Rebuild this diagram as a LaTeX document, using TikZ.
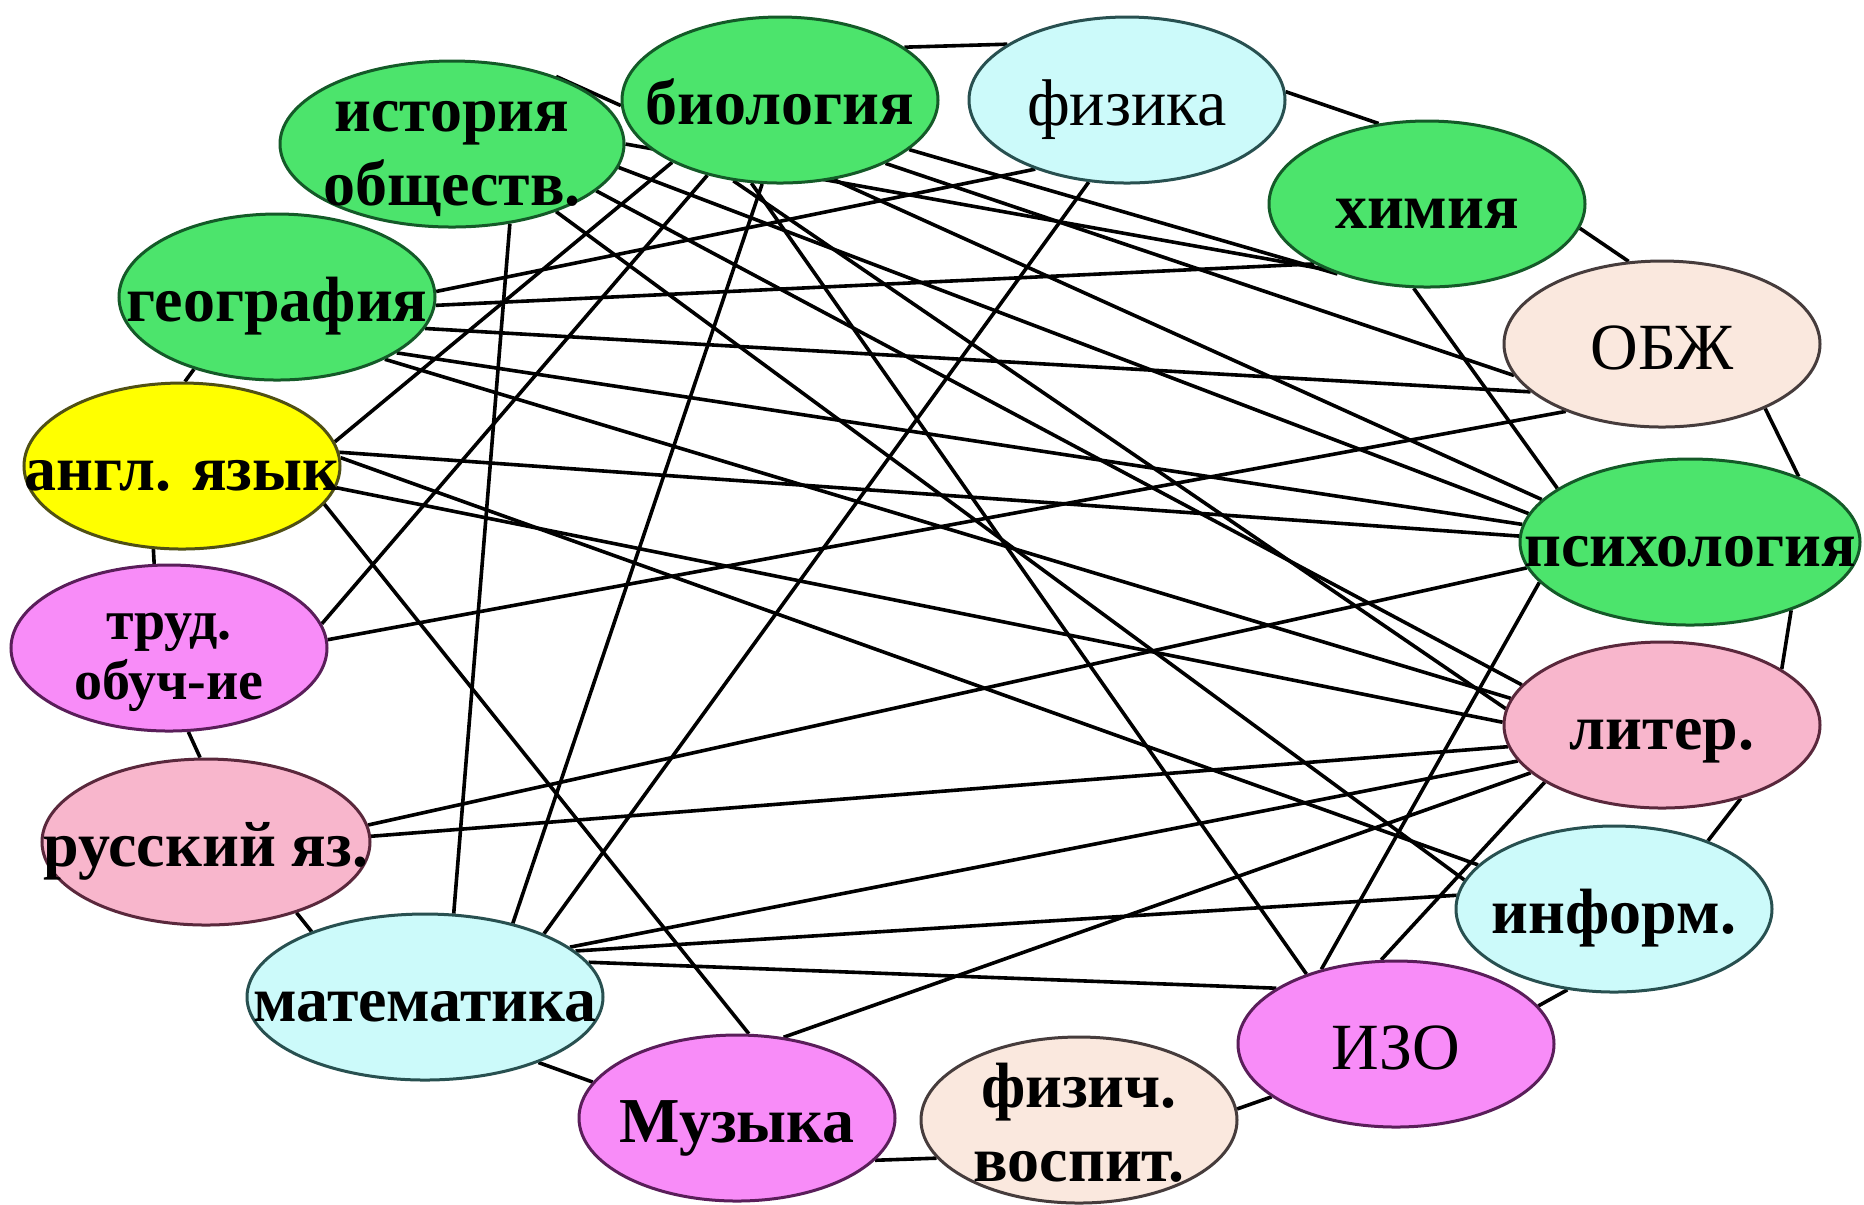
\documentclass[tikz,border=0pt]{standalone}
\usepackage{fontspec}
\setmainfont{Liberation Serif}
\usetikzlibrary{shapes.geometric,backgrounds}

\definecolor{cGreen}{RGB}{76,228,108}
\definecolor{dGreen}{RGB}{20,90,40}
\definecolor{cCyan}{RGB}{204,250,250}
\definecolor{dCyan}{RGB}{40,80,80}
\definecolor{cPeach}{RGB}{250,232,222}
\definecolor{dPeach}{RGB}{70,60,60}
\definecolor{cPink}{RGB}{248,182,204}
\definecolor{dPink}{RGB}{90,40,60}
\definecolor{cMag}{RGB}{248,140,248}
\definecolor{dMag}{RGB}{90,30,90}
\definecolor{cYel}{RGB}{255,255,0}
\definecolor{dYel}{RGB}{80,80,20}

% text of a subject, kept out of the ellipse size
\newcommand{\lab}[1]{\makebox[0pt]{\smash{\raisebox{-0.42em}{\begin{tabular}{@{}c@{}}#1\end{tabular}}}}}

\begin{document}
\begin{tikzpicture}[x=0.25pt, y=-0.25pt,
  main/.style = {draw, ellipse, line width=0.75pt, minimum width=79pt, minimum height=41.5pt, inner sep=0pt, font=\fontsize{16}{18.5}\selectfont\bfseries},
  grn/.style = {main, fill=cGreen, draw=dGreen},
  cyn/.style = {main, fill=cCyan, draw=dCyan},
  pch/.style = {main, fill=cPeach, draw=dPeach},
  pnk/.style = {main, fill=cPink, draw=dPink},
  mag/.style = {main, fill=cMag, draw=dMag},
  ylw/.style = {main, fill=cYel, draw=dYel},
  reg/.style = {font=\fontsize{16.5}{19}\selectfont}]
  \useasboundingbox (0,0) rectangle (1864,1204);

  \node[grn, minimum width=86pt] (ist) at (452,144) {\lab{история\\обществ.}};
  \node[grn] (bio) at (780,100) {\lab{биология}};
  \node[cyn, reg] (fiz) at (1127,100) {\lab{физика}};
  \node[grn] (him) at (1427,204) {\lab{химия}};
  \node[pch, reg] (obzh) at (1662,344) {\lab{ОБЖ}};
  \node[grn, minimum width=85pt] (psih) at (1690,542) {\lab{психология}};
  \node[pnk] (lit) at (1662,725) {\lab{литер.}};
  \node[cyn] (inf) at (1614,909) {\lab{информ.}};
  \node[mag, reg] (izo) at (1396,1044) {\lab{ИЗО}};
  \node[pch] (fizv) at (1079,1120) {\lab{физич.\\воспит.}};
  \node[mag] (muz) at (737,1118) {\lab{Музыка}};
  \node[cyn, minimum width=89pt] (mat) at (425,997) {\lab{математика}};
  \node[pnk, minimum width=82pt] (rus) at (206,842) {\lab{русский яз.}};
  \node[mag, font=\fontsize{14}{15}\selectfont\bfseries] (trud) at (169,648) {\lab{труд.\\обуч-ие}};
  \node[ylw] (angl) at (182,466) {\lab{англ. язык}};
  \node[grn] (geo) at (277,297) {\lab{география}};

  \begin{scope}[on background layer]
  \begin{scope}[line width=0.9pt]
    \fill[white] (0,0) rectangle (1864,1204);
    % round the ring
    \draw (ist.33) -- (bio.182);
    \draw (bio.23) -- (fiz.155);
    \draw (fiz.3) -- (him.121);
    \draw (him.-9) -- (obzh.112);
    \draw (obzh.-32) -- (psih.31);
    \draw (psih.-34) -- (lit.25);
    \draw (lit.-43) -- (inf.36);
    \draw (inf.-120) -- (izo.15);
    \draw (izo.203) -- (fizv.4);
    \draw (fizv.195) -- (muz.-17);
    \draw (muz.166) -- (mat.-30);
    \draw (mat.150) -- (rus.-38);
    \draw (rus.94) -- (trud.-77);
    \draw (trud.100) -- (angl.-109);
    \draw (angl.88) -- (geo.-139);
    % across
    \draw (ist.-54) -- (mat.71);
    \draw (ist.0) -- (him.213);
    \draw (ist.-8) -- (psih.170);
    \draw (ist.-18) -- (lit.164);
    \draw (ist.-33) -- (inf.169);
    \draw (bio.-102) -- (mat.40);
    \draw (bio.-150) -- (angl.9);
    \draw (bio.-134) -- (trud.9);
    \draw (bio.-109) -- (izo.142);
    \draw (bio.-21) -- (him.218);
    \draw (bio.-31) -- (obzh.-168);
    \draw (bio.-56) -- (psih.164);
    \draw (bio.-120) -- (lit.174);
    \draw (fiz.-143) -- (geo.2);
    \draw (fiz.-115) -- (mat.28);
    \draw (geo.-3) -- (him.208);
    \draw (geo.-12) -- (obzh.-160);
    \draw (geo.-25) -- (psih.174);
    \draw (geo.-30) -- (lit.170);
    \draw (angl.-15) -- (muz.82);
    \draw (angl.5) -- (psih.178);
    \draw (angl.-8) -- (lit.179);
    \draw (angl.3) -- (inf.162);
    \draw (trud.3) -- (obzh.-145);
    \draw (rus.6) -- (psih.189);
    \draw (rus.2) -- (lit.188);
    \draw (mat.19) -- (lit.194);
    \draw (mat.17) -- (inf.175);
    \draw (mat.12) -- (izo.155);
    \draw (muz.60) -- (lit.200);
    \draw (him.-99) -- (psih.158);
    \draw (psih.195) -- (izo.135);
    \draw (lit.206) -- (izo.100);
  \end{scope}
  \end{scope}
\end{tikzpicture}
\end{document}
